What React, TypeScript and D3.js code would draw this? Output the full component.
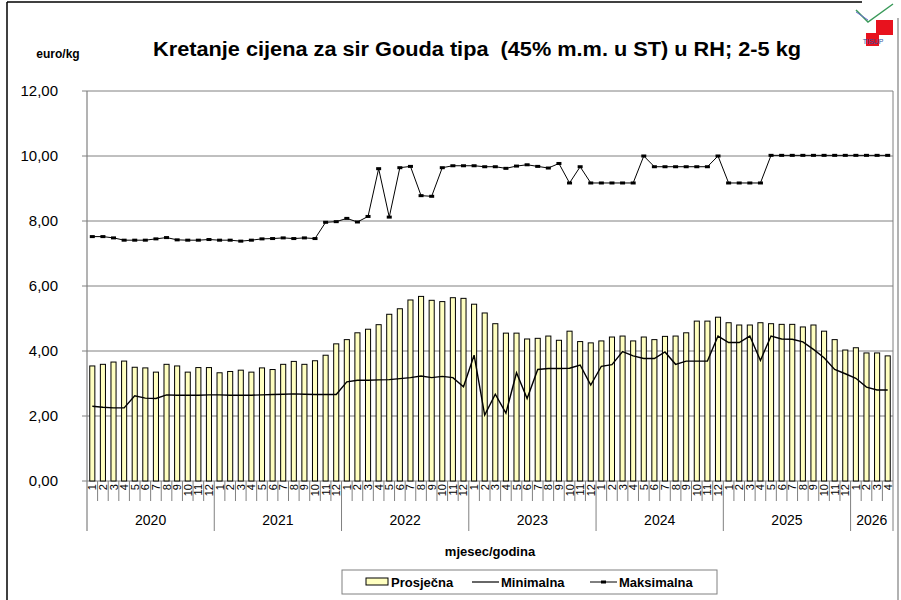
import React from "react";
import * as d3 from "d3";

// monthly prices, 2020-1 .. 2026-4
const YEARS = [2020, 2021, 2022, 2023, 2024, 2025, 2026];
const MONTHS_PER_YEAR = [12, 12, 12, 12, 12, 12, 4];

const PROSJECNA = [
  3.54, 3.59, 3.66, 3.69, 3.5, 3.48, 3.35, 3.59, 3.54, 3.35, 3.49, 3.49,
  3.33, 3.37, 3.41, 3.35, 3.48, 3.43, 3.59, 3.68, 3.59, 3.7, 3.87, 4.22,
  4.35, 4.56, 4.67, 4.81, 5.13, 5.3, 5.57, 5.68, 5.56, 5.52, 5.64, 5.62,
  5.44, 5.17, 4.84, 4.55, 4.55, 4.37, 4.39, 4.46, 4.33, 4.61, 4.29, 4.25,
  4.31, 4.43, 4.46, 4.31, 4.43, 4.35, 4.45, 4.46, 4.56, 4.92, 4.92, 5.04,
  4.87, 4.8, 4.8, 4.87, 4.84, 4.82, 4.82, 4.74, 4.8, 4.61, 4.35, 4.03,
  4.1, 3.94, 3.94, 3.85,
];

const MINIMALNA = [
  2.3, 2.27, 2.25, 2.25, 2.62, 2.55, 2.54, 2.65, 2.64, 2.64, 2.64, 2.65,
  2.65, 2.64, 2.64, 2.64, 2.65, 2.66, 2.67, 2.68, 2.67, 2.66, 2.66, 2.66,
  3.05, 3.1, 3.1, 3.11, 3.12, 3.15, 3.18, 3.23, 3.18, 3.22, 3.18, 2.9,
  3.87, 2.03, 2.67, 2.09, 3.33, 2.54, 3.43, 3.46, 3.46, 3.47, 3.57, 2.95,
  3.53, 3.58, 3.98, 3.85, 3.77, 3.77, 3.97, 3.59, 3.69, 3.69, 3.69, 4.46,
  4.26, 4.26, 4.46, 3.71, 4.46, 4.37, 4.36, 4.28, 4.05, 3.79, 3.43, 3.3,
  3.16, 2.89, 2.8, 2.8,
];

const MAKSIMALNA = [
  7.52, 7.52, 7.48, 7.41, 7.41, 7.41, 7.45, 7.49, 7.42, 7.41, 7.41, 7.43,
  7.41, 7.41, 7.38, 7.41, 7.45, 7.46, 7.48, 7.46, 7.48, 7.46, 7.96, 7.98,
  8.08, 7.97, 8.14, 9.61, 8.12, 9.64, 9.68, 8.78, 8.76, 9.64, 9.7, 9.7,
  9.7, 9.67, 9.67, 9.62, 9.69, 9.73, 9.68, 9.63, 9.77, 9.17, 9.67, 9.17,
  9.17, 9.17, 9.17, 9.17, 10.0, 9.67, 9.67, 9.67, 9.67, 9.67, 9.67, 10.0,
  9.17, 9.17, 9.17, 9.17, 10.02, 10.02, 10.02, 10.02, 10.02, 10.02, 10.02, 10.02,
  10.02, 10.02, 10.02, 10.02,
];

const Y_TICKS = [0, 2, 4, 6, 8, 10, 12];

const W = 901;
const H = 600;
const LEFT = 87;
const RIGHT = 893;
const TOP = 91;
const BOTTOM = 481;
const FONT = "Arial, 'Liberation Sans', sans-serif";

const monthLabels: string[] = [];
YEARS.forEach((yr, k) => {
  for (let m = 1; m <= MONTHS_PER_YEAR[k]; m++) monthLabels.push(String(m));
});
const idx = monthLabels.map((_, i) => i);

export default function App() {
  const x = d3
    .scaleBand<number>()
    .domain(idx)
    .range([LEFT, RIGHT])
    .paddingInner(0.52)
    .paddingOuter(0.26);
  const step = x.step();
  const cx = (i: number) => (x(i) as number) + x.bandwidth() / 2;
  const y = d3.scaleLinear().domain([0, 12]).range([BOTTOM, TOP]);
  const fmt = (v: number) => d3.format(".2f")(v).replace(".", ",");

  const line = d3
    .line<number>()
    .x((_, i) => cx(i))
    .y((d) => y(d));

  // year boundaries
  const yearStarts: number[] = [];
  let acc = 0;
  MONTHS_PER_YEAR.forEach((n) => {
    yearStarts.push(acc);
    acc += n;
  });

  return (
    <svg
      width={W}
      height={H}
      style={{ position: "absolute", left: 0, top: 0, background: "#fff" }}
      fontFamily={FONT}
    >
      {/* outer frame */}
      <line x1={7} y1={2} x2={862} y2={2} stroke="#000" strokeWidth={1.5} />
      <line x1={7} y1={2} x2={7} y2={H} stroke="#000" strokeWidth={1.5} />
      <line x1={898} y1={18} x2={898} y2={H} stroke="#999" strokeWidth={1.5} />

      {/* logo */}
      <g>
        <path d="M856,10 L868,22 L893,4" fill="none" stroke="#3a9a5a" strokeWidth={1.5} />
        <path d="M856,12 L868,20" fill="none" stroke="#6b6bd0" strokeWidth={1} />
        <rect x={876} y={20} width={17} height={15} fill="#e8121e" />
        <rect x={866} y={33} width={13} height={13} fill="#e8121e" />
        <text x={873} y={44} fontSize={7} fill="#3050a0" textAnchor="middle">
          TISUP
        </text>
      </g>

      {/* title */}
      <text
        x={477}
        y={56}
        fontSize={20}
        fontWeight="bold"
        textAnchor="middle"
        textLength={648}
        lengthAdjust="spacingAndGlyphs"
        style={{ whiteSpace: "pre" }}
      >
        {"Kretanje cijena za sir Gouda tipa  (45% m.m. u ST) u RH; 2-5 kg"}
      </text>
      <text x={58} y={58} fontSize={12} fontWeight="bold" textAnchor="middle">
        euro/kg
      </text>

      {/* gridlines + y labels */}
      {Y_TICKS.map((t) => (
        <g key={t}>
          <line
            x1={LEFT}
            x2={RIGHT}
            y1={y(t)}
            y2={y(t)}
            stroke="#808080"
            strokeWidth={1}
          />
          <line x1={LEFT - 5} x2={LEFT} y1={y(t)} y2={y(t)} stroke="#808080" />
          <text
            x={58}
            y={y(t) + 5}
            fontSize={15}
            textAnchor="end"
            fill="#000"
          >
            {fmt(t)}
          </text>
        </g>
      ))}
      <line x1={RIGHT} x2={RIGHT} y1={TOP} y2={BOTTOM} stroke="#808080" />

      {/* bars */}
      {PROSJECNA.map((v, i) => (
        <rect
          key={i}
          x={x(i)}
          y={y(v)}
          width={x.bandwidth()}
          height={y(0) - y(v)}
          fill="#ffffc0"
          stroke="#000"
          strokeWidth={1}
        />
      ))}

      {/* lines */}
      <path d={line(MINIMALNA) || ""} fill="none" stroke="#000" strokeWidth={1.4} />
      <path d={line(MAKSIMALNA) || ""} fill="none" stroke="#000" strokeWidth={1} />
      {MAKSIMALNA.map((v, i) => (
        <rect key={i} x={cx(i) - 2.5} y={y(v) - 1.5} width={5} height={3} fill="#000" />
      ))}

      {/* y axis */}
      <line x1={LEFT} x2={LEFT} y1={TOP} y2={531} stroke="#808080" strokeWidth={1.2} />

      {/* x axis: month separators, month labels */}
      {idx.map((i) => {
        const bx = LEFT + (i + 1) * step;
        const isYear = yearStarts.includes(i + 1) || i === idx.length - 1;
        return (
          <line
            key={"s" + i}
            x1={bx}
            x2={bx}
            y1={BOTTOM}
            y2={isYear ? 531 : 501}
            stroke="#808080"
          />
        );
      })}
      {monthLabels.map((m, i) => (
        <text
          key={"m" + i}
          transform={`translate(${cx(i) + 4},${BOTTOM + 3}) rotate(-90)`}
          fontSize={11}
          textAnchor="end"
        >
          {m}
        </text>
      ))}
      {YEARS.map((yr, k) => {
        const s = yearStarts[k];
        const mid = LEFT + (s + MONTHS_PER_YEAR[k] / 2) * step;
        return (
          <text key={yr} x={mid} y={525} fontSize={14} textAnchor="middle">
            {yr}
          </text>
        );
      })}
      <text x={490} y={556} fontSize={13} fontWeight="bold" textAnchor="middle">
        mjesec/godina
      </text>

      {/* legend */}
      <rect x={342} y={570} width={375} height={24} fill="#fff" stroke="#808080" />
      <rect x={366} y={578} width={22} height={7} fill="#ffffc0" stroke="#000" />
      <text x={391} y={587} fontSize={13} fontWeight="bold">
        Prosječna
      </text>
      <line x1={472} x2={499} y1={582} y2={582} stroke="#000" strokeWidth={1.2} />
      <text x={501} y={587} fontSize={13} fontWeight="bold">
        Minimalna
      </text>
      <line x1={590} x2={617} y1={582} y2={582} stroke="#000" strokeWidth={1} />
      <rect x={601} y={580.5} width={5} height={3} fill="#000" />
      <text x={619} y={587} fontSize={13} fontWeight="bold">
        Maksimalna
      </text>
    </svg>
  );
}
